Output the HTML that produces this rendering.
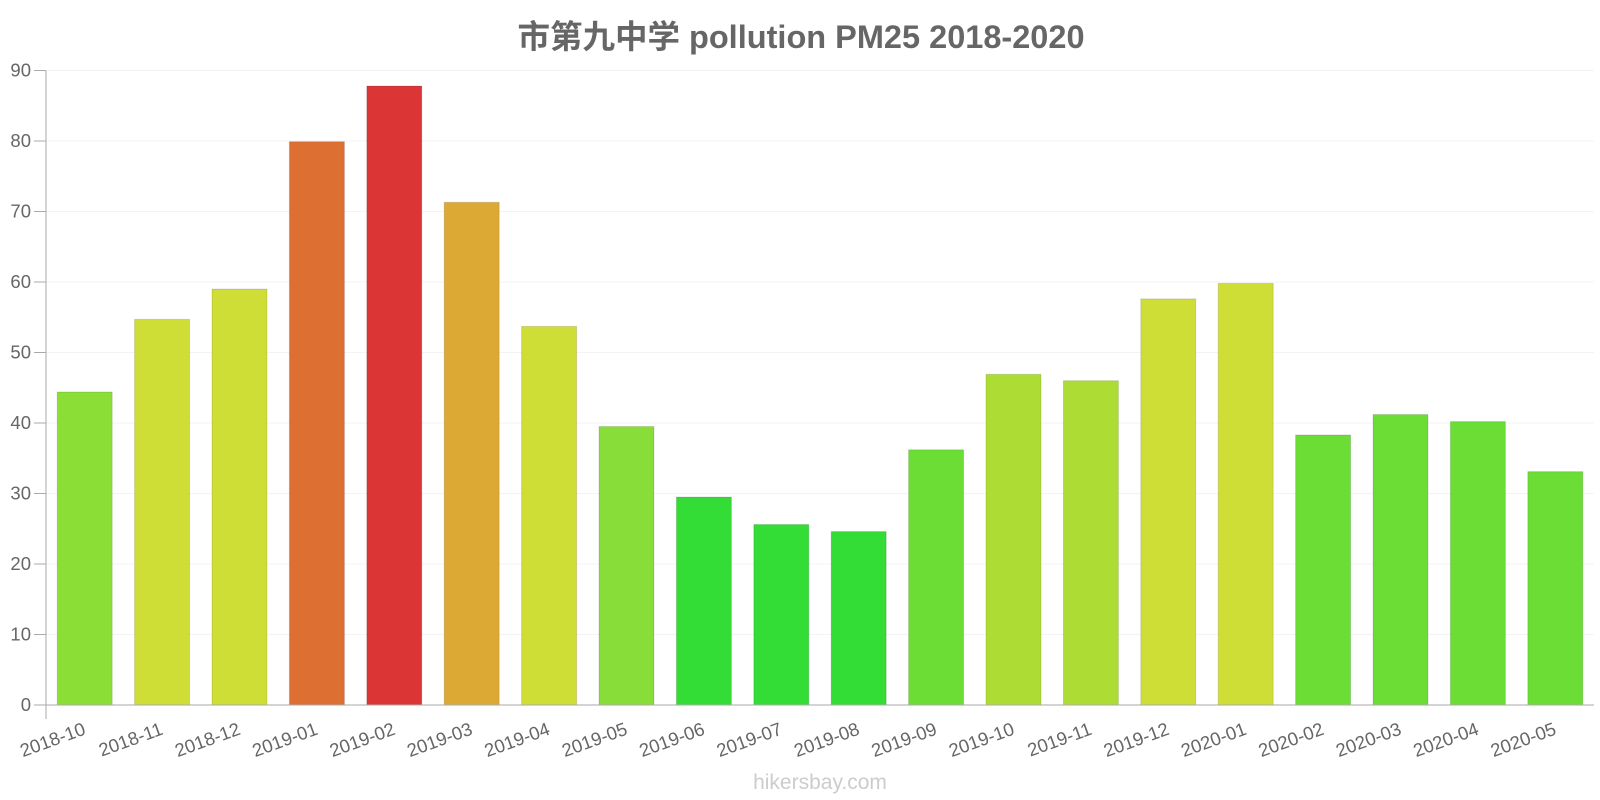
<!DOCTYPE html>
<html><head><meta charset="utf-8">
<style>
body{margin:0;background:#fff;}
svg{display:block;font-family:"Liberation Sans","Noto Sans CJK SC",sans-serif;}
</style></head>
<body>
<svg id="chart" width="1600" height="800" viewBox="0 0 1600 800" xmlns="http://www.w3.org/2000/svg">
<text x="801" y="48" text-anchor="middle" font-size="32.5" font-weight="bold" fill="#666">市第九中学 pollution PM25 2018-2020</text>
<g id="grid"></g>
<g id="bars"></g>
<g id="yaxis"></g>
<g id="xaxis"></g>
<text x="820" y="789" text-anchor="middle" font-size="21" fill="#ccc">hikersbay.com</text>
</svg>
<script>
const categories=["2018-10","2018-11","2018-12","2019-01","2019-02","2019-03","2019-04","2019-05","2019-06","2019-07","2019-08","2019-09","2019-10","2019-11","2019-12","2020-01","2020-02","2020-03","2020-04","2020-05"];
const values=[44.4,54.7,59.0,79.9,87.8,71.3,53.7,39.5,29.5,25.6,24.6,36.2,46.9,46.0,57.6,59.8,38.3,41.2,40.2,33.1];
const colors=["#8ade35","#cfdd37","#cfdd37","#dd6f33","#dc3535","#dca935","#cfdd37","#89dd38","#33dd35","#33dd35","#33dd35","#6bdd35","#addd35","#addd35","#cfdd37","#cfdd37","#6bdd35","#6bdd35","#6bdd35","#6bdd35"];
const yTicks=[0,10,20,30,40,50,60,70,80,90];
const NS="http://www.w3.org/2000/svg";
const x0=46,x1=1594,yBase=705,yTop=70.5,yMax=90;
const step=(x1-x0)/categories.length;
function yScale(v){return yBase-(v/yMax)*(yBase-yTop);}
function xCenter(i){return x0+step*(i+0.5);}
function mk(tag,attrs,parent){const e=document.createElementNS(NS,tag);for(const k in attrs)e.setAttribute(k,attrs[k]);parent.appendChild(e);return e;}
const grid=document.getElementById('grid'),bars=document.getElementById('bars'),ya=document.getElementById('yaxis'),xa=document.getElementById('xaxis');
yTicks.forEach(t=>{
  const y=yScale(t);
  if(t>0){const g=mk('line',{x1:x0,x2:x1,y1:y,y2:y,stroke:'#f3f3f3','stroke-width':1},grid);
  
  }
  const tk=mk('line',{x1:x0-12,x2:x0,y1:y,y2:y,stroke:'#aaa'},ya);
  
  
  const tx=mk('text',{x:x0-15,y:y+6,'text-anchor':'end','font-size':18.5,fill:'#666'},ya);
  tx.textContent=t;
  
  
});
mk('line',{x1:x0,x2:x0,y1:yTop,y2:yBase+14,stroke:'#aaa'},ya);
mk('line',{x1:x0,x2:x1,y1:yBase,y2:yBase,stroke:'#aaa'},xa);
const bw=55;
values.forEach((v,i)=>{
  const c=colors[i],xc=xCenter(i),y=yScale(v);
  const r=mk('rect',{x:xc-bw/2,y:y,width:bw,height:yBase-y,fill:c,stroke:'rgba(0,0,0,0.12)','stroke-width':1},bars);
  
  
  const t=mk('text',{x:xc+2,y:yBase+29,'text-anchor':'end','font-size':18.5,fill:'#666',transform:`rotate(-20 ${xc+2} ${yBase+29})`},xa);
  t.textContent=categories[i];
  
  
});
</script>
</body></html>
